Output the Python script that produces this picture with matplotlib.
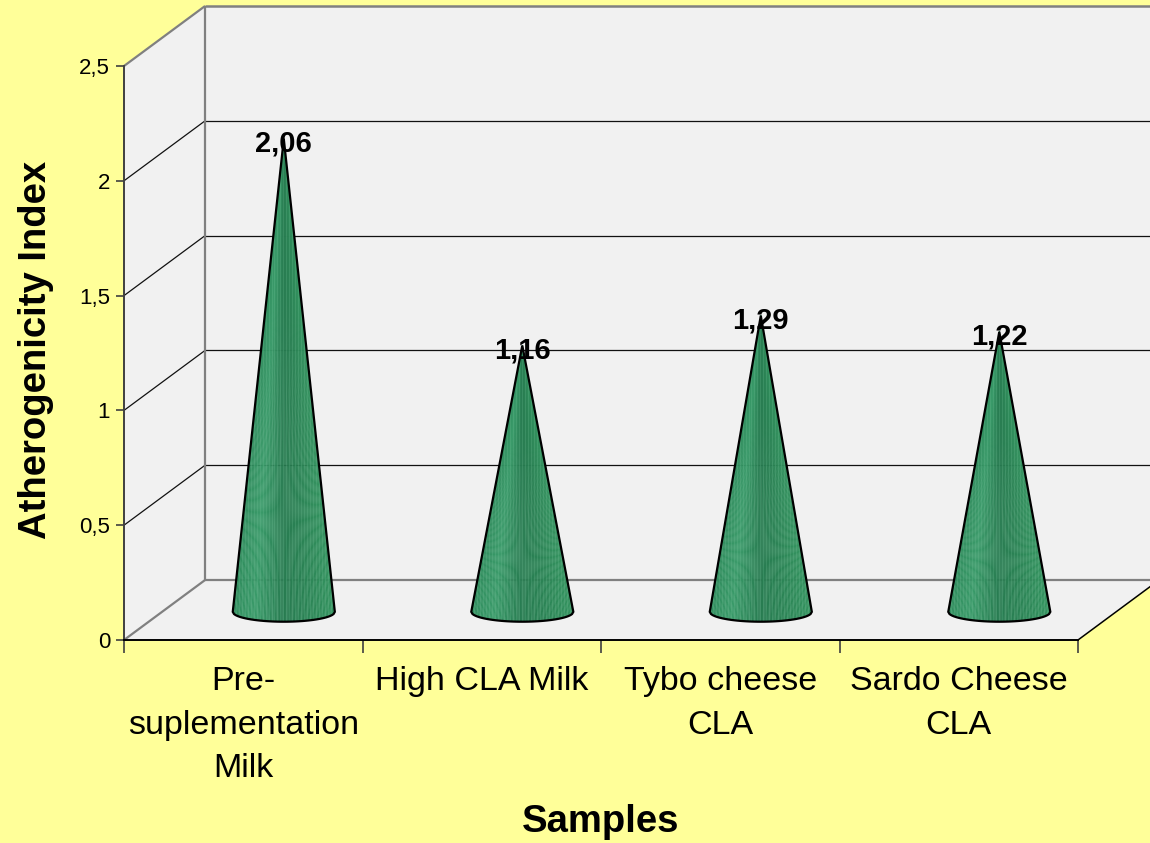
import numpy as np
import matplotlib
matplotlib.use("Agg")
import matplotlib.pyplot as plt
from matplotlib.patches import Polygon
from matplotlib.colors import LinearSegmentedColormap

plt.rcParams['font.family'] = ['Liberation Sans', 'DejaVu Sans']

# ---- data -------------------------------------------------------------
categories = ["Pre-\nsuplementation\nMilk", "High CLA Milk",
              "Tybo cheese\nCLA", "Sardo Cheese\nCLA"]
values = [2.06, 1.16, 1.29, 1.22]
y_ticks = [0, 0.5, 1, 1.5, 2, 2.5]
y_tick_labels = ["0", "0,5", "1", "1,5", "2", "2,5"]
x_title = "Samples"
y_title = "Atherogenicity Index"

# ---- figure / axes ----------------------------------------------------
W, H = 1150, 843
BG = '#FFFF99'
WALL = '#F1F1F1'
EDGE = '#808080'

fig = plt.figure(figsize=(W / 100, H / 100), dpi=100, facecolor=BG)
ax = fig.add_axes([124 / W, 1 - 640 / H, 954 / W, 574 / H])
n = len(categories)
ymax = y_ticks[-1]
ax.set_xlim(0, n)
ax.set_ylim(0, ymax)
ax.patch.set_visible(False)

# depth vector of the 3-D box, in data units
DX, DY = 0.34, 0.2613


def P(x, y, z):
    return (x + z * DX, y + z * DY)


def poly(pts, **kw):
    p = Polygon(pts, closed=True, clip_on=False, **kw)
    ax.add_patch(p)
    return p


def seg(a, b, **kw):
    ax.plot([a[0], b[0]], [a[1], b[1]], clip_on=False, solid_capstyle='butt', **kw)


# walls and floor
poly([P(0, 0, 1), P(n, 0, 1), P(n, ymax, 1), P(0, ymax, 1)], facecolor=WALL, edgecolor='none', zorder=1)
poly([P(0, 0, 0), P(0, 0, 1), P(0, ymax, 1), P(0, ymax, 0)], facecolor=WALL, edgecolor='none', zorder=1)
poly([P(0, 0, 0), P(n, 0, 0), P(n, 0, 1), P(0, 0, 1)], facecolor=WALL, edgecolor='none', zorder=1)

# gridlines on the side and back walls
for v in y_ticks[1:-1]:
    seg(P(0, v, 0), P(0, v, 1), color='#111111', lw=0.9, zorder=2)
    seg(P(0, v, 1), P(n, v, 1), color='#111111', lw=0.9, zorder=2)

# box edges
seg(P(0, ymax, 0), P(0, ymax, 1), color=EDGE, lw=1.6, zorder=2)
seg(P(0, ymax, 1), P(n, ymax, 1), color=EDGE, lw=1.8, zorder=2)
seg(P(0, 0, 1), P(0, ymax, 1), color=EDGE, lw=1.6, zorder=2)
seg(P(0, 0, 0), P(0, 0, 1), color=EDGE, lw=1.6, zorder=2)
seg(P(0, 0, 1), P(n, 0, 1), color=EDGE, lw=1.6, zorder=2)
seg(P(n, 0, 0), P(n, 0, 1), color='black', lw=1.1, zorder=2)

# ---- cones ------------------------------------------------------------
cone_cmap = LinearSegmentedColormap.from_list(
    'cone', [(0.0, '#2F8D5D'), (0.22, '#3A9B6A'), (0.5, '#287C51'),
             (0.7, '#2A8254'), (1.0, '#33935F')])
RX = 0.214   # base half-width (category units)
RY = 0.043   # half-height of the base ellipse (value units)
NS = 80

for i, v in enumerate(values):
    cx, cy = P(i + 0.5, 0, 0.5)
    cy -= 0.008
    apex = (cx, cy + v)
    u = np.linspace(-1, 1, NS + 1)
    bx = cx + RX * u
    by = cy - RY * np.sqrt(np.clip(1 - u ** 2, 0, None))
    for k in range(NS):
        col = cone_cmap((u[k] + u[k + 1]) / 4 + 0.5)
        poly([apex, (bx[k], by[k]), (bx[k + 1], by[k + 1])],
             facecolor=col, edgecolor=col, lw=0.3, zorder=3)
    outline = [apex] + list(zip(bx, by))
    clip = poly(outline, facecolor='none', edgecolor='black', lw=1.6, zorder=5)
    # fine light streaks of the shaded surface
    for xs in np.arange(cx - RX, cx + RX, 0.0125):
        ln, = ax.plot([xs, xs], [cy - RY, apex[1]], color='#7CC9A0', lw=0.6,
                      alpha=0.25, zorder=4, clip_on=True)
        ln.set_clip_path(clip)
    ax.annotate(f"{v:.2f}".replace('.', ','), xy=apex, xytext=(0, -3.5),
                textcoords='offset points', ha='center', va='center',
                fontsize=21, fontweight='bold', zorder=6, annotation_clip=False)

# ---- axes, ticks, labels ----------------------------------------------
for s in ('top', 'right'):
    ax.spines[s].set_visible(False)
ax.spines['left'].set_color('#404040')
ax.spines['left'].set_linewidth(1.4)
ax.spines['bottom'].set_color('black')
ax.spines['bottom'].set_linewidth(1.4)
ax.spines['left'].set_zorder(6)
ax.spines['bottom'].set_zorder(6)

ax.set_yticks(y_ticks)
ax.set_yticklabels(y_tick_labels)
ax.tick_params(axis='y', direction='out', length=6, width=1.2, color='#404040',
               pad=4, labelsize=16)

ax.set_xticks(range(n + 1))
ax.set_xticklabels([''] * (n + 1))
ax.tick_params(axis='x', which='major', direction='out', length=9, width=1.2,
               color='#404040')
ax.set_xticks(np.arange(n) + 0.5, minor=True)
ax.set_xticklabels(categories, minor=True)
ax.tick_params(axis='x', which='minor', length=0, pad=19, labelsize=24.5)
for t in ax.get_xticklabels(minor=True):
    t.set_linespacing(1.52)

fig.text(36 / W, 1 - 350 / H, y_title, rotation=90, ha='center', va='center',
         fontsize=27.5, fontweight='bold')
fig.text(601 / W, 1 - 822 / H, x_title, ha='center', va='center',
         fontsize=27.5, fontweight='bold')

fig.savefig('out.png', dpi=100, facecolor=BG)
